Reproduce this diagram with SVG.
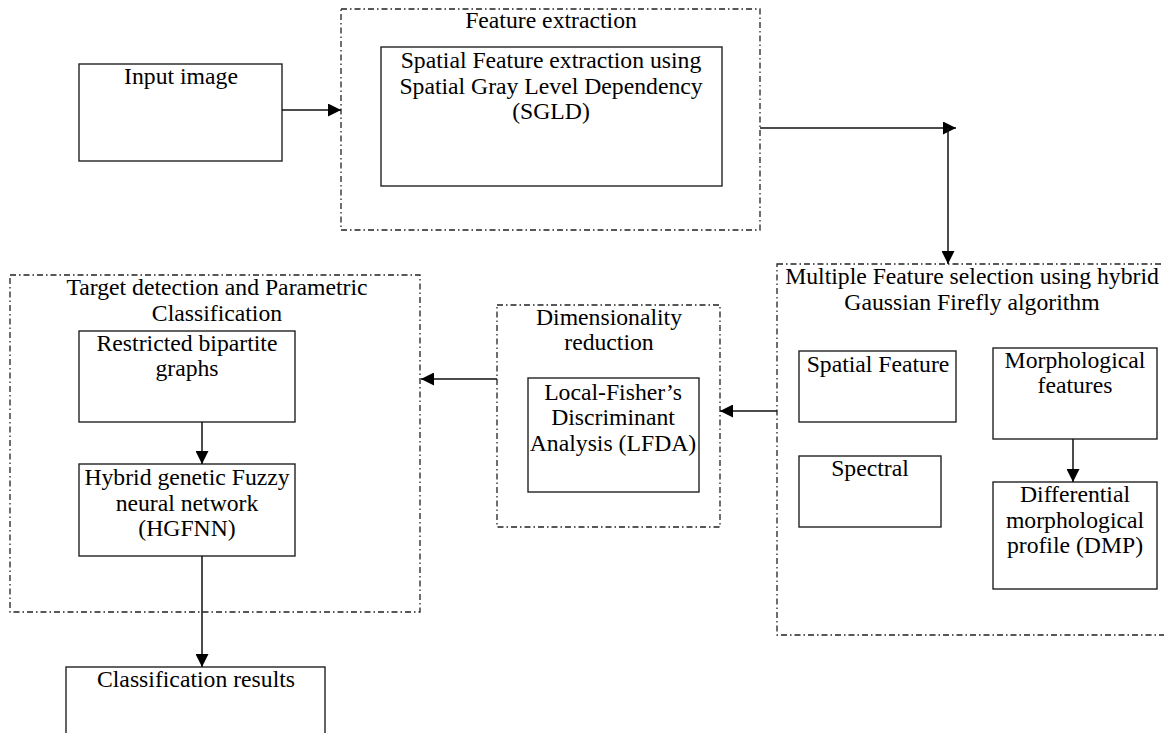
<svg xmlns="http://www.w3.org/2000/svg" width="1164" height="733" viewBox="0 0 1164 733">
<style>
.box{fill:#fff;stroke:#222;stroke-width:1.4}
.grp{fill:none;stroke:#222;stroke-width:1.3;stroke-dasharray:6 3 1.5 3}
.t{font-family:"Liberation Serif","Times New Roman",serif;font-size:23.7px;fill:#000;text-anchor:middle}
.c{fill:none;stroke:#111;stroke-width:1.5}
</style>
<defs>
<marker id="ah" markerUnits="userSpaceOnUse" markerWidth="13" markerHeight="13" refX="13" refY="6.5" orient="auto">
<path d="M0,0 L13,6.5 L0,13 z" fill="#000"/>
</marker>
</defs>
<rect width="1164" height="733" fill="#fff"/>

<g id="g-feature-extraction">
<rect class="grp" x="341" y="9" width="419" height="221"/>
<text class="t" x="551" y="28">Feature extraction</text>
</g>
<g id="g-multiple-feature">
<rect class="grp" x="777" y="264" width="400" height="371"/>
<text class="t" x="972" y="284">Multiple Feature selection using hybrid</text>
<text class="t" x="972" y="310">Gaussian Firefly algorithm</text>
</g>
<g id="g-dimensionality">
<rect class="grp" x="497" y="305" width="223" height="222"/>
<text class="t" x="609" y="325">Dimensionality</text>
<text class="t" x="609" y="350">reduction</text>
</g>
<g id="g-target">
<rect class="grp" x="10" y="275" width="410" height="337"/>
<text class="t" x="217" y="295">Target detection and Parametric</text>
<text class="t" x="217" y="321">Classification</text>
</g>

<g id="n-input">
<rect class="box" x="79" y="64" width="203" height="97"/>
<text class="t" x="181" y="84">Input image</text>
</g>
<g id="n-sgld">
<rect class="box" x="381" y="47" width="341" height="139"/>
<text class="t" x="551" y="68">Spatial Feature extraction using</text>
<text class="t" x="551" y="94">Spatial Gray Level Dependency</text>
<text class="t" x="551" y="119">(SGLD)</text>
</g>
<g id="n-spatial">
<rect class="box" x="799" y="351" width="157" height="71"/>
<text class="t" x="878" y="372">Spatial Feature</text>
</g>
<g id="n-spectral">
<rect class="box" x="799" y="456" width="142" height="71"/>
<text class="t" x="870" y="476">Spectral</text>
</g>
<g id="n-morph">
<rect class="box" x="993" y="348" width="164" height="91"/>
<text class="t" x="1075" y="368">Morphological</text>
<text class="t" x="1075" y="393">features</text>
</g>
<g id="n-dmp">
<rect class="box" x="993" y="482" width="164" height="107"/>
<text class="t" x="1075" y="502">Differential</text>
<text class="t" x="1075" y="528">morphological</text>
<text class="t" x="1075" y="553">profile (DMP)</text>
</g>
<g id="n-lfda">
<rect class="box" x="528" y="378" width="171" height="114"/>
<text class="t" x="613" y="400">Local-Fisher’s</text>
<text class="t" x="613" y="425">Discriminant</text>
<text class="t" x="613" y="451">Analysis (LFDA)</text>
</g>
<g id="n-rbg">
<rect class="box" x="79" y="331" width="216" height="91"/>
<text class="t" x="187" y="351">Restricted bipartite</text>
<text class="t" x="187" y="376">graphs</text>
</g>
<g id="n-hgfnn">
<rect class="box" x="79" y="464" width="216" height="92"/>
<text class="t" x="187" y="485">Hybrid genetic Fuzzy</text>
<text class="t" x="187" y="511">neural network</text>
<text class="t" x="187" y="536">(HGFNN)</text>
</g>
<g id="n-results">
<rect class="box" x="66" y="667" width="259" height="80"/>
<text class="t" x="196" y="687">Classification results</text>
</g>

<g id="connectors">
<path class="c" d="M282,110 H341" marker-end="url(#ah)"/>
<path class="c" d="M760,128 H956" marker-end="url(#ah)"/>
<path class="c" d="M948,128 V264" marker-end="url(#ah)"/>
<path class="c" d="M777,411 H720" marker-end="url(#ah)"/>
<path class="c" d="M497,379 H421" marker-end="url(#ah)"/>
<path class="c" d="M202,422 V464" marker-end="url(#ah)"/>
<path class="c" d="M202,556 V667" marker-end="url(#ah)"/>
<path class="c" d="M1073,439 V482" marker-end="url(#ah)"/>
</g>
</svg>
